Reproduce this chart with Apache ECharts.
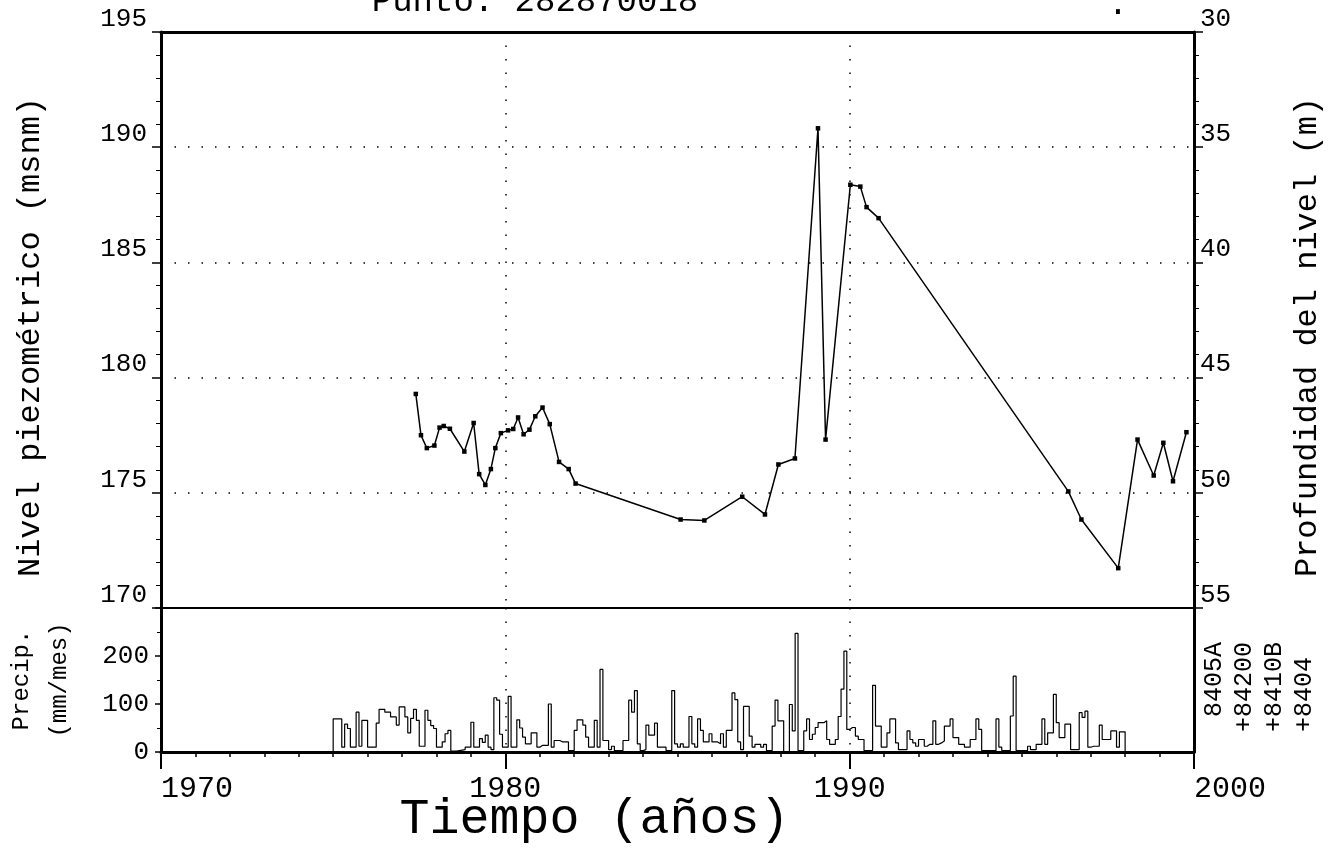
<!DOCTYPE html>
<html>
<head>
<meta charset="utf-8">
<script src="https://cdn.jsdelivr.net/npm/echarts@6/dist/echarts.min.js"></script>
<style>
html,body{margin:0;padding:0;background:#fff;}
#chart{width:1335px;height:848px;}
</style>
</head>
<body>
<div id="chart"></div>
<script>
// ---- Data ----
const levelYears = [1977.40,1977.55,1977.72,1977.94,1978.09,1978.21,1978.39,1978.81,1979.08,1979.24,
  1979.42,1979.58,1979.71,1979.87,1980.08,1980.23,1980.37,1980.53,1980.70,1980.87,
  1981.08,1981.29,1981.56,1981.84,1982.04,1985.09,1985.78,1986.88,1987.54,1987.93,
  1988.41,1989.08,1989.30,1990.02,1990.31,1990.49,1990.84,1996.35,1996.73,1997.80,
  1998.36,1998.83,1999.11,1999.39,1999.78];
const levelValues = [179.29,177.50,176.94,177.05,177.83,177.90,177.78,176.79,178.03,175.81,
  175.34,176.03,176.94,177.59,177.71,177.77,178.27,177.54,177.74,178.32,
  178.70,177.98,176.34,176.03,175.40,173.84,173.80,174.83,174.06,176.23,
  176.49,190.82,177.31,188.37,188.29,187.40,186.92,175.06,173.84,171.73,
  177.31,175.75,177.17,175.50,177.63];
const precipStartYear = 1975;
const precipMonthly = [
  69,69,69,10,58,49,10,10,83,12,66,66,       // 1975
  10,10,10,60,89,89,83,83,73,73,56,94,       // 1976
  94,73,40,70,89,66,12,12,87,66,55,49,       // 1977
  10,10,21,38,45,2,2,3,4,5,10,10,            // 1978
  62,10,10,28,20,35,10,5,113,108,37,10,      // 1979
  10,116,10,10,67,50,31,17,17,40,40,10,      // 1980
  14,14,14,100,10,24,24,21,21,21,3,3,        // 1981
  45,67,67,56,31,10,10,66,10,172,24,24,      // 1982
  5,12,3,3,3,24,24,108,83,128,17,3,          // 1983
  5,56,35,35,60,10,10,10,3,3,128,17,         // 1984
  10,17,10,10,74,17,10,69,45,21,21,38,       // 1985
  21,21,17,38,10,45,45,123,109,21,5,95,      // 1986
  95,33,10,16,16,10,16,3,3,54,108,65,        // 1987
  65,0,0,99,44,247,3,3,44,69,26,37,          // 1988
  51,61,61,65,26,16,16,26,74,131,210,47,     // 1989
  51,51,33,26,26,3,3,3,139,54,54,10,         // 1990
  10,40,69,69,19,5,5,5,44,26,19,12,          // 1991
  26,26,12,16,16,65,16,19,23,54,54,69,       // 1992
  30,30,16,16,10,10,26,26,69,47,3,3,         // 1993
  3,3,3,69,10,3,3,3,75,158,3,3,              // 1994
  3,3,12,5,5,16,16,69,16,40,40,120,          // 1995
  61,30,30,58,58,5,5,5,82,72,85,10,          // 1996
  12,12,12,56,26,26,26,44,44,10,42,42        // 1997
];
const stationLabels = [' 8405A', '+84200', '+8410B', '+8404'];
const titleText = 'Punto: 282870018';

// ---- Build series data ----
const levelData = levelYears.map((y, i) => [y, levelValues[i]]);
const precipData = [[precipStartYear, 0]];
precipMonthly.forEach((v, i) => precipData.push([precipStartYear + i / 12, v]));
const precipEnd = precipStartYear + precipMonthly.length / 12;
precipData.push([precipEnd, precipMonthly[precipMonthly.length - 1]]);
precipData.push([precipEnd, 0]);

const FONT = 'Liberation Mono';
const dotted = { show: true, lineStyle: { color: '#000', width: 1.5, type: [1.5, 12] } };
const L = 161, R = 141;
const plain = v => String(v);

const chart = echarts.init(document.getElementById('chart'), null, { renderer: 'canvas' });
chart.setOption({
  backgroundColor: '#fff',
  animation: false,
  textStyle: { fontFamily: FONT, color: '#000' },
  grid: [
    { left: L, right: R, top: 32, height: 576, containLabel: false, outerBoundsMode: 'none' },
    { left: L, right: R, top: 608, height: 144, containLabel: false, outerBoundsMode: 'none' }
  ],
  xAxis: [
    { gridIndex: 0, type: 'value', min: 1970, max: 2000, interval: 10, position: 'bottom',
      axisLine: { show: true, onZero: false, lineStyle: { color: '#000', width: 2 } },
      axisTick: { show: false }, axisLabel: { show: false }, splitLine: dotted },
    { gridIndex: 0, type: 'value', min: 1970, max: 2000, interval: 10, position: 'top',
      axisLine: { show: true, onZero: false, lineStyle: { color: '#000', width: 3 } },
      axisTick: { show: false }, axisLabel: { show: false }, splitLine: { show: false } },
    { gridIndex: 1, type: 'value', min: 1970, max: 2000, interval: 10, position: 'bottom',
      axisLine: { show: true, onZero: false, lineStyle: { color: '#000', width: 3 } },
      axisTick: { show: true, inside: false, length: 17, lineStyle: { color: '#000', width: 2 } },
      minorTick: { show: true, splitNumber: 10, length: 5, lineStyle: { color: '#000', width: 1.5 } },
      axisLabel: { show: true, margin: 22, fontSize: 30, fontFamily: FONT, color: '#000', formatter: plain,
        alignMinLabel: 'left', alignMaxLabel: 'left' },
      splitLine: dotted,
      name: 'Tiempo (años)', nameLocation: 'middle', nameGap: 43, nameMoveOverlap: false,
      nameTextStyle: { fontSize: 50, fontFamily: FONT, color: '#000', padding: [0, 166, 0, 0] } }
  ],
  yAxis: [
    { gridIndex: 0, type: 'value', min: 170, max: 195, interval: 5, position: 'left',
      axisLine: { show: true, onZero: false, lineStyle: { color: '#000', width: 3 } },
      axisTick: { show: true, length: 9, lineStyle: { color: '#000', width: 1.5 } },
      minorTick: { show: true, splitNumber: 5, length: 5, lineStyle: { color: '#000', width: 1 } },
      axisLabel: { fontSize: 26, fontFamily: FONT, color: '#000', margin: 14, verticalAlign: 'bottom', formatter: plain },
      splitLine: dotted,
      name: 'Nivel piezométrico (msnm)', nameLocation: 'middle', nameRotate: 90, nameGap: 114,
      nameTextStyle: { fontSize: 32, fontFamily: FONT, color: '#000', padding: [0, 34, 0, 0] } },
    { gridIndex: 0, type: 'value', min: 30, max: 55, interval: 5, inverse: true, position: 'right',
      axisLine: { show: true, onZero: false, lineStyle: { color: '#000', width: 3 } },
      axisTick: { show: true, length: 9, lineStyle: { color: '#000', width: 1.5 } },
      minorTick: { show: true, splitNumber: 5, length: 5, lineStyle: { color: '#000', width: 1 } },
      axisLabel: { fontSize: 26, fontFamily: FONT, color: '#000', margin: 6, verticalAlign: 'bottom', formatter: plain },
      splitLine: { show: false },
      name: 'Profundidad del nivel (m)', nameLocation: 'middle', nameRotate: 90, nameGap: 98,
      nameTextStyle: { fontSize: 32, fontFamily: FONT, color: '#000', padding: [0, 34, 0, 0] } },
    { gridIndex: 1, type: 'value', min: 0, max: 300, interval: 100, position: 'left',
      axisLine: { show: true, onZero: false, lineStyle: { color: '#000', width: 3 } },
      axisTick: { show: true, length: 6, lineStyle: { color: '#000', width: 1.5 } },
      minorTick: { show: true, splitNumber: 2, length: 4, lineStyle: { color: '#000', width: 1 } },
      axisLabel: { fontSize: 26, fontFamily: FONT, color: '#000', margin: 12, showMaxLabel: false, formatter: plain },
      splitLine: { show: false },
      name: 'Precip.\n(mm/mes)', nameLocation: 'middle', nameRotate: 90, nameGap: 82,
      nameTextStyle: { fontSize: 24, fontFamily: FONT, color: '#000', lineHeight: 38 } },
    { gridIndex: 1, type: 'value', min: 0, max: 300, interval: 100, position: 'right',
      axisLine: { show: true, onZero: false, lineStyle: { color: '#000', width: 3 } },
      axisTick: { show: false }, axisLabel: { show: false }, splitLine: { show: false } }
  ],
  series: [
    { name: 'Nivel', type: 'line', xAxisIndex: 0, yAxisIndex: 0, data: levelData,
      symbol: 'rect', symbolSize: 4.5, showSymbol: true,
      lineStyle: { color: '#000', width: 1.5 }, itemStyle: { color: '#000' } },
    { name: 'Precip', type: 'line', xAxisIndex: 2, yAxisIndex: 2, data: precipData,
      step: 'end', symbol: 'none', lineStyle: { color: '#000', width: 1.2 } }
  ],
  graphic: [
    { type: 'text', x: 535, y: 19, style: { text: titleText, font: '34px "Liberation Mono"', fill: '#000',
      align: 'center', verticalAlign: 'bottom', textAlign: 'center', textVerticalAlign: 'bottom' } },
    { type: 'text', x: 1118, y: 22, style: { text: '.', font: '34px "Liberation Mono"', fill: '#000',
      align: 'center', verticalAlign: 'bottom', textAlign: 'center', textVerticalAlign: 'bottom' } }
  ].concat(stationLabels.map((t, i) => ({
    type: 'text', x: 1214 + i * 30, y: 732, rotation: Math.PI / 2,
    style: { text: t, font: '25px "Liberation Mono"', fill: '#000',
      align: 'left', verticalAlign: 'middle', textAlign: 'left', textVerticalAlign: 'middle' }
  })))
});
</script>
</body>
</html>
